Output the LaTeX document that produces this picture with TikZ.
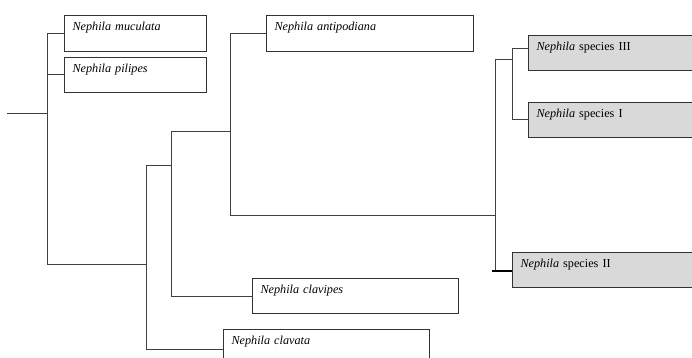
\documentclass[tikz,border=0pt]{standalone}
\usepackage{fontspec}
\setmainfont{Liberation Serif}
\begin{document}
\begin{tikzpicture}[x=1pt,y=-1pt,
  ln/.style={draw=black!75,line width=1pt},
  tbox/.style={draw=black!80,line width=1pt,rectangle,anchor=north west,inner xsep=8pt,inner ysep=3pt,
    text height=12pt,text depth=#1,font=\fontsize{12.2pt}{14pt}\selectfont,align=left},
  gbox/.style={tbox=#1,fill=black!15}]
\useasboundingbox (0,0) rectangle (692,358);
\clip (0,0) rectangle (692,358);
% boxes
\node[tbox=18pt,text width=126pt] (muc) at (64,15) {\textit{Nephila muculata}};
\node[tbox=17pt,text width=126pt] (pil) at (64,57) {\textit{Nephila pilipes}};
\node[tbox=18pt,text width=191pt] (ant) at (266,15) {\textit{Nephila antipodiana}};
\node[gbox=17pt,text width=154pt] (s3) at (528,35) {\textit{Nephila} species III};
\node[gbox=17pt,text width=154pt] (s1) at (528,102) {\textit{Nephila} species I};
\node[gbox=17pt,text width=170pt] (s2) at (512,252) {\textit{Nephila} species II};
\node[tbox=17pt,text width=190pt] (cvp) at (252,278) {\textit{Nephila clavipes}};
\node[tbox=21pt,text width=190pt] (cvt) at (223,329) {\textit{Nephila clavata}};
% junction coordinates
\coordinate (r0) at (7,114);
\coordinate (a) at (47,114);
\coordinate (b1) at (47,264);
\coordinate (b2) at (146,264);
\coordinate (c1) at (146,165);
\coordinate (c2) at (171,165);
\coordinate (d1) at (171,132);
\coordinate (d2) at (230,132);
\coordinate (e1) at (230,215);
\coordinate (e2) at (495,215);
\coordinate (f1) at (495,60);
\coordinate (f2) at (512,60);
\coordinate (t0) at (492,271);
% connectors
\draw[ln] (r0) -- (a);
\draw[ln] (muc.west) -| (b1) -- (b2);
\draw[ln] (pil.west) -- (pil.west -| b1);
\draw[ln] (c2) -- (c1) |- (cvt.west);
\draw[ln] (d2) -- (d1) |- (cvp.west);
\draw[ln] (ant.west) -| (e1) -- (e2);
\draw[ln] (f2) -- (f1) |- (s2.west);
\draw[line width=1.5pt] (t0) -- (t0 -| s2.west);
\draw[ln] ([yshift=4.5pt]s3.west) -| (s1.west -| f2) -- (s1.west);
\end{tikzpicture}
\end{document}
